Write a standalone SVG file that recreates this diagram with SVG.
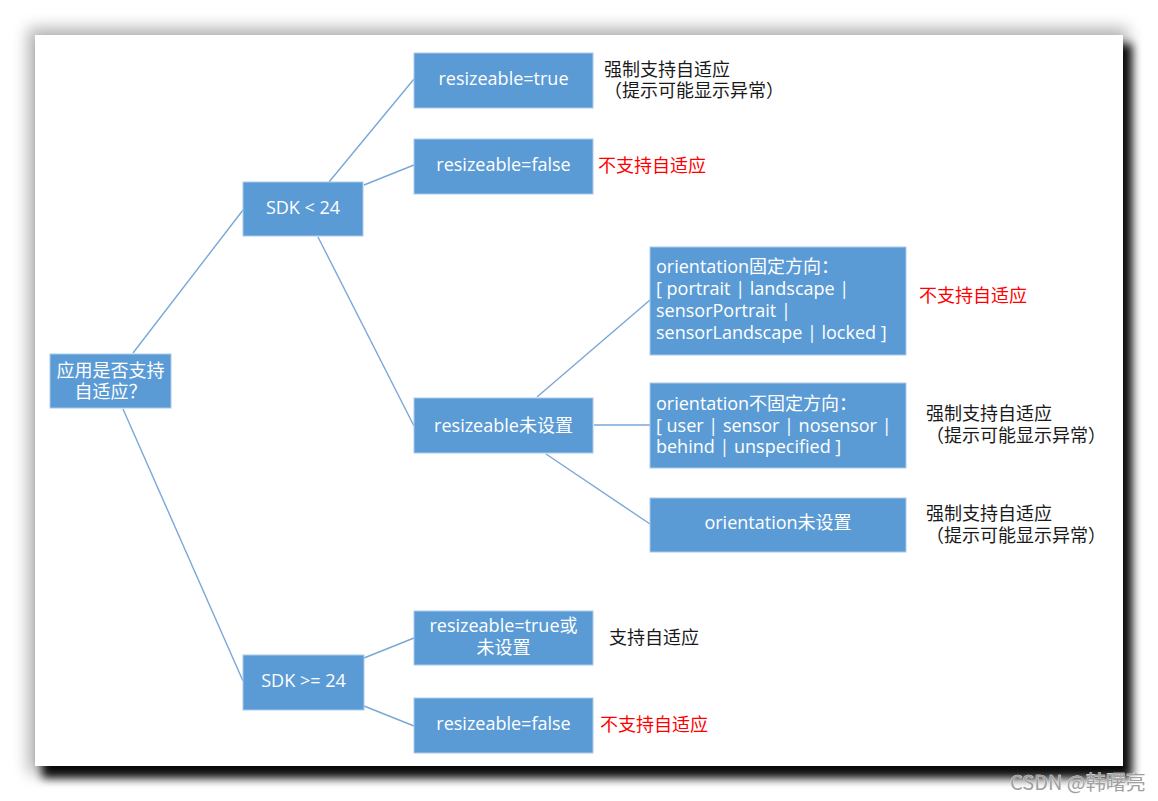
<svg xmlns="http://www.w3.org/2000/svg" width="1158" height="801" viewBox="0 0 1158 801">
<defs>
<filter id="softShadow" x="-10%" y="-10%" width="120%" height="120%">
<feGaussianBlur stdDeviation="8"/>
</filter>
<filter id="darkShadow" x="-10%" y="-10%" width="120%" height="120%">
<feGaussianBlur stdDeviation="5"/>
</filter>
<style>
.box{fill:#5b9bd5;stroke:#a9c9ec;stroke-width:1}
.bt{font-family:"Open Sans","Noto Sans CJK SC",sans-serif;font-size:18px;fill:#ffffff}
.c{text-anchor:middle}
.lab{font-family:"Open Sans","Noto Sans CJK SC",sans-serif;font-size:18px;fill:#1a1a1a}
.red{fill:#ff0000}
.conn line{stroke:#7aa7d8;stroke-width:1.4}
.wm{font-family:"Noto Sans CJK SC",sans-serif;font-size:20px;fill:#a0a0a0;stroke:#ffffff;stroke-width:0.6;paint-order:stroke}
</style>
</defs>
<rect x="0" y="0" width="1158" height="801" fill="#ffffff"/>
<g id="card">
<rect x="28" y="28" width="1100" height="745" fill="#000" opacity="0.3" filter="url(#softShadow)"/>
<rect x="42" y="44" width="1090" height="734" fill="#000" opacity="0.95" filter="url(#darkShadow)"/>
<rect x="35" y="35" width="1088" height="731" fill="#ffffff"/>
</g>
<g id="connectors" class="conn">
<line x1="133" y1="353" x2="243" y2="210"/>
<line x1="123" y1="409" x2="243" y2="681"/>
<line x1="329" y1="182" x2="414" y2="79"/>
<line x1="364" y1="185" x2="414" y2="165"/>
<line x1="318" y1="237" x2="414" y2="426"/>
<line x1="537" y1="397" x2="650" y2="300"/>
<line x1="594" y1="425" x2="650" y2="425"/>
<line x1="546" y1="454" x2="650" y2="524"/>
<line x1="364" y1="658" x2="414" y2="638"/>
<line x1="364" y1="706" x2="414" y2="726"/>
</g>
<g id="root">
<rect class="box" x="50" y="354" width="121" height="54"/>
<text class="bt c" x="110.5" y="377">应用是否支持</text>
<text class="bt c" x="110.5" y="398">自适应？</text>
</g>
<g id="sdk_lt_24">
<rect class="box" x="243" y="182" width="120" height="54"/>
<text class="bt c" x="303" y="214">SDK &lt; 24</text>
</g>
<g id="sdk_ge_24">
<rect class="box" x="243" y="655" width="121" height="55"/>
<text class="bt c" x="303.5" y="687">SDK &gt;= 24</text>
</g>
<g id="r_true">
<rect class="box" x="414" y="53" width="179" height="55"/>
<text class="bt c" x="503.5" y="85">resizeable=true</text>
</g>
<g id="r_false">
<rect class="box" x="414" y="139" width="179" height="55"/>
<text class="bt c" x="503.5" y="171">resizeable=false</text>
</g>
<g id="r_unset">
<rect class="box" x="414" y="398" width="179" height="55"/>
<text class="bt c" x="503.5" y="432">resizeable未设置</text>
</g>
<g id="r_true_or_unset">
<rect class="box" x="414" y="611" width="179" height="54"/>
<text class="bt c" x="503.5" y="632">resizeable=true或</text>
<text class="bt c" x="503.5" y="654">未设置</text>
</g>
<g id="r_false2">
<rect class="box" x="414" y="698" width="179" height="55"/>
<text class="bt c" x="503.5" y="730">resizeable=false</text>
</g>
<g id="o_fixed">
<rect class="box" x="650" y="247" width="256" height="108"/>
<text class="bt" x="656" y="273">orientation固定方向：</text>
<text class="bt" x="656" y="295">[ portrait | landscape |</text>
<text class="bt" x="656" y="317">sensorPortrait |</text>
<text class="bt" x="656" y="339">sensorLandscape | locked ]</text>
</g>
<g id="o_unfixed">
<rect class="box" x="650" y="383" width="256" height="85"/>
<text class="bt" x="656" y="410">orientation不固定方向：</text>
<text class="bt" x="656" y="432">[ user | sensor | nosensor |</text>
<text class="bt" x="656" y="453">behind | unspecified ]</text>
</g>
<g id="o_unset">
<rect class="box" x="650" y="498" width="256" height="54"/>
<text class="bt c" x="778" y="529">orientation未设置</text>
</g>
<g id="labels">
<text class="lab" x="604" y="76">强制支持自适应</text>
<text class="lab" x="604" y="97">（提示可能显示异常）</text>
<text class="lab red" x="598" y="172">不支持自适应</text>
<text class="lab red" x="919" y="302">不支持自适应</text>
<text class="lab" x="926" y="420">强制支持自适应</text>
<text class="lab" x="926" y="442">（提示可能显示异常）</text>
<text class="lab" x="926" y="520">强制支持自适应</text>
<text class="lab" x="926" y="542">（提示可能显示异常）</text>
<text class="lab" x="609" y="644">支持自适应</text>
<text class="lab red" x="600" y="731">不支持自适应</text>
</g>
<text class="wm" x="1010" y="790">CSDN @韩曙亮</text>
</svg>
